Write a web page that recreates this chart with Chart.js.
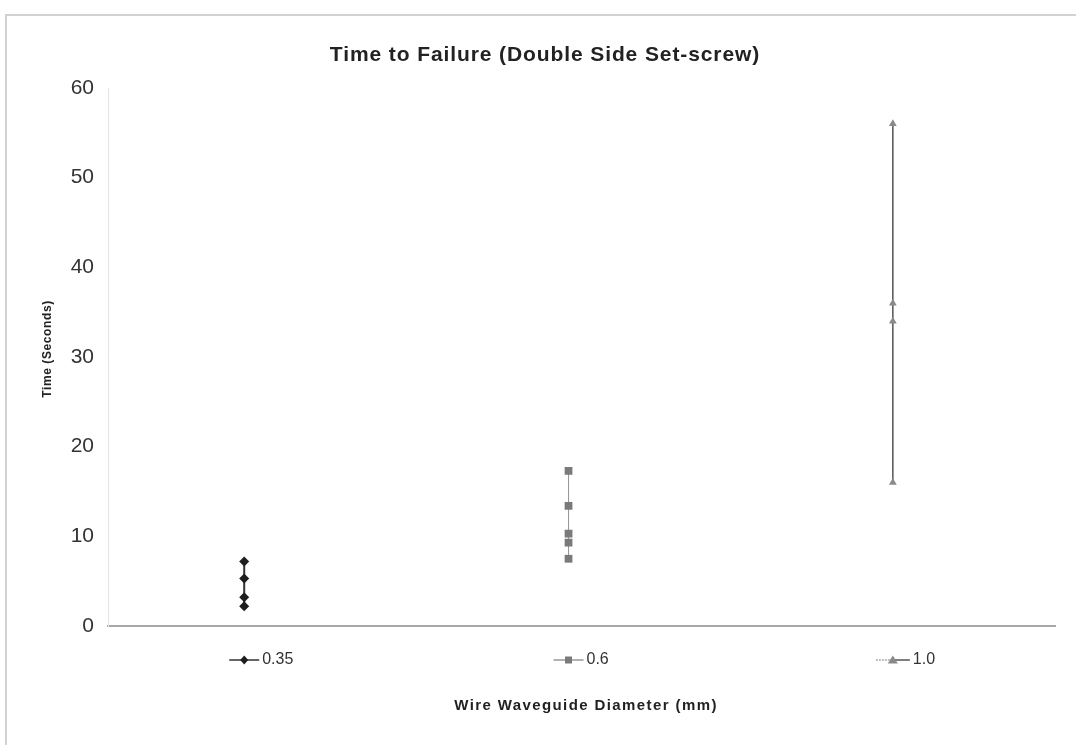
<!DOCTYPE html>
<html>
<head>
<meta charset="utf-8">
<script src="https://cdn.jsdelivr.net/npm/chart.js@4.4.1/dist/chart.umd.min.js"></script>
<style>
  body { margin: 0; background: #fff; }
  #wrap { position: relative; width: 1076px; height: 745px; overflow: hidden; }
  #frame { position: absolute; left: 5px; top: 14px; width: 1100px; height: 760px; border: 2px solid #d2d2d2; box-sizing: border-box; }
  #chart { position: absolute; left: 0; top: 0; }
</style>
</head>
<body>
<div id="wrap">
  <div id="frame"></div>
  <canvas id="chart" width="1076" height="745"></canvas>
</div>
<script>
// Wire diameters (mm), one column each
const categories = ['0.35', '0.6', '1.0'];

// Time to failure (seconds) per diameter
const times035 = [7.2, 5.3, 3.2, 2.2];
const times06 = [17.3, 13.4, 10.3, 9.3, 7.5];
const times10 = [56, 36, 34, 16];

const chartTitle = 'Time to Failure (Double Side Set-screw)';
const xTitle = 'Wire Waveguide Diameter (mm)';
const yTitle = 'Time (Seconds)';

const FONT = '"Liberation Sans", Arial, sans-serif';

const seriesStyles = [
  {color: '#1e1e1e', line: '#333', width: 2, style: 'rectRot', radius: 5},
  {color: '#7a7a7a', line: '#999', width: 1, style: 'rect', radius: 5.5},
  {color: '#8a8a8a', line: '#555', width: 1.5, style: 'triangle', radius: 4.5},
];

const seriesValues = [times035, times06, times10];

const datasets = seriesValues.map((vals, i) => ({
  label: categories[i],
  data: vals.map(v => ({x: i, y: v})),
  showLine: true,
  borderColor: seriesStyles[i].line,
  borderWidth: seriesStyles[i].width,
  pointStyle: seriesStyles[i].style,
  pointRadius: seriesStyles[i].radius,
  pointBackgroundColor: seriesStyles[i].color,
  pointBorderColor: seriesStyles[i].color,
  pointBorderWidth: 0,
}));

// titles (letter-spaced like the original) and the little keys under each column
const extras = {
  id: 'extras',
  afterDraw(chart) {
    const ctx = chart.ctx;
    const xs = chart.scales.x;
    const area = chart.chartArea;
    ctx.save();
    ctx.fillStyle = '#222';
    ctx.textAlign = 'center';
    ctx.textBaseline = 'middle';

    ctx.letterSpacing = '0.9px';
    ctx.font = 'bold 21px ' + FONT;
    ctx.fillText(chartTitle, 545, 55);

    ctx.letterSpacing = '1.4px';
    ctx.font = 'bold 15px ' + FONT;
    ctx.fillText(xTitle, 586, 706);

    ctx.letterSpacing = '0.6px';
    ctx.font = 'bold 12px ' + FONT;
    ctx.save();
    ctx.translate(48, (area.top + area.bottom) / 2 - 8);
    ctx.rotate(-Math.PI / 2);
    ctx.fillText(yTitle, 0, 0);
    ctx.restore();

    ctx.letterSpacing = '0px';
    const y = 660;
    categories.forEach((lab, i) => {
      const st = seriesStyles[i];
      const x = xs.getPixelForValue(i);
      ctx.strokeStyle = st.line;
      ctx.lineWidth = 1.5;
      if (i === 2) {
        ctx.setLineDash([2, 1]);
        ctx.strokeStyle = '#aaa';
        ctx.beginPath(); ctx.moveTo(x - 17, y); ctx.lineTo(x, y); ctx.stroke();
        ctx.setLineDash([]);
        ctx.strokeStyle = st.line;
        ctx.beginPath(); ctx.moveTo(x, y); ctx.lineTo(x + 17, y); ctx.stroke();
      } else {
        ctx.beginPath(); ctx.moveTo(x - 15, y); ctx.lineTo(x + 15, y); ctx.stroke();
      }
      ctx.fillStyle = st.color;
      ctx.beginPath();
      if (st.style === 'rectRot') {
        ctx.moveTo(x, y - 4.5); ctx.lineTo(x + 4, y); ctx.lineTo(x, y + 4.5); ctx.lineTo(x - 4, y);
      } else if (st.style === 'rect') {
        ctx.rect(x - 3.5, y - 3.5, 7, 7);
      } else {
        ctx.moveTo(x, y - 4.5); ctx.lineTo(x + 5, y + 3.5); ctx.lineTo(x - 5, y + 3.5);
      }
      ctx.closePath();
      ctx.fill();
      ctx.fillStyle = '#333';
      ctx.font = '16px ' + FONT;
      ctx.textAlign = 'left';
      ctx.fillText(lab, x + (i === 2 ? 20 : 18), y);
      ctx.textAlign = 'center';
    });
    ctx.restore();
  }
};

new Chart(document.getElementById('chart'), {
  type: 'scatter',
  data: {datasets},
  plugins: [extras],
  options: {
    responsive: false,
    animation: false,
    layout: {padding: {left: 0, right: 21, top: 88, bottom: 0}},
    plugins: {
      legend: {display: false},
      tooltip: {enabled: false},
      title: {display: false},
    },
    scales: {
      x: {
        type: 'linear',
        min: -0.42,
        max: 2.5,
        grid: {display: false},
        border: {display: true, color: '#a8a8a8', width: 2},
        ticks: {display: false},
        afterFit(scale) { scale.height = 119; },
      },
      y: {
        min: 0,
        max: 60,
        ticks: {
          stepSize: 10,
          color: '#333',
          padding: 6,
          font: {family: FONT, size: 21},
        },
        grid: {display: false},
        border: {display: true, color: '#e4e4e4', width: 1},
        afterFit(scale) { scale.width = 108; },
      },
    },
  },
});
</script>
</body>
</html>
